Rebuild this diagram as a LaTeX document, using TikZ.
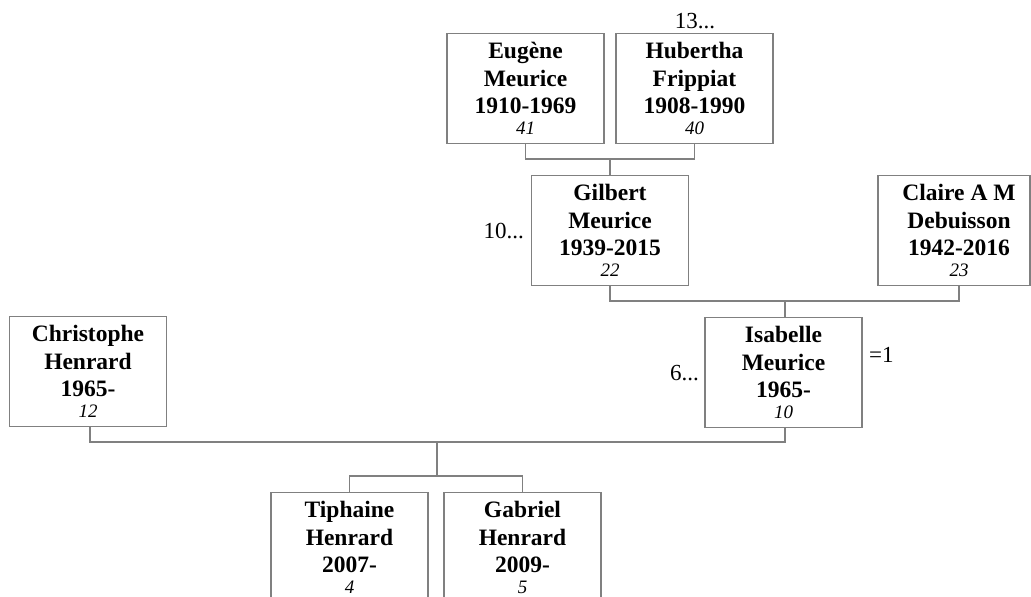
\documentclass[tikz,border=0pt]{standalone}
\usepackage{fontspec}
\setmainfont{Liberation Serif}
\definecolor{linegray}{RGB}{128,128,128}
\tikzset{
  pbox/.style={draw=linegray, line width=1.3pt, minimum width=157pt, minimum height=110pt, inner sep=0pt},
  conn/.style={draw=linegray, line width=1.3pt},
  nametext/.style={anchor=base, inner sep=0pt, font=\fontsize{23.5}{28}\selectfont\bfseries},
  numtext/.style={anchor=base, inner sep=0pt, font=\fontsize{19}{22}\selectfont\itshape},
  side/.style={inner sep=0pt, font=\fontsize{23}{27}\selectfont}
}
% \person{name}{cx}{top}{line1}{line2}{line3}{number}
\newcommand{\person}[7]{%
  \node[pbox, anchor=north] (#1) at (#2,#3) {};
  \node[nametext] (#1-a) at (#2,#3+25) {#4};
  \node[nametext] (#1-b) at (#2,#3+53) {#5};
  \node[nametext] (#1-c) at (#2,#3+80) {#6};
  \node[numtext]  (#1-d) at (#2,#3+101) {#7};
}
\begin{document}
\begin{tikzpicture}[x=1pt,y=-1pt]
\useasboundingbox (0,0) rectangle (1031,597);
\clip (0,0) rectangle (1031,597);
\person{eugene}{525.5}{33}{Eugène}{Meurice}{1910-1969}{41}
\person{hubertha}{694.5}{33}{Hubertha}{Frippiat}{1908-1990}{40}
\person{gilbert}{610}{175}{Gilbert}{Meurice}{1939-2015}{22}
% Claire (box cut at the right edge)
\node[draw=linegray, line width=1.3pt, minimum width=152pt, minimum height=110pt, inner sep=0pt, anchor=north] (claire) at (954,175) {};
\node[nametext] (claire-a) at (959,200) {Claire A M};
\node[nametext] (claire-b) at (959,228) {Debuisson};
\node[nametext] (claire-c) at (959,255) {1942-2016};
\node[numtext]  (claire-d) at (959,276) {23};
\person{isabelle}{783.5}{317}{Isabelle}{Meurice}{1965-}{10}
\person{christophe}{88}{316}{Christophe}{Henrard}{1965-}{12}
\person{tiphaine}{349.5}{492}{Tiphaine}{Henrard}{2007-}{4}
\person{gabriel}{522.5}{492}{Gabriel}{Henrard}{2009-}{5}

\node[side, anchor=base] (n13) at (695,28) {13...};
\node[side, anchor=base east] (n10) at (524,238) {10...};
\node[side, anchor=base east] (n6) at (699,380) {6...};
\node[side, anchor=base west] (n1) at (869,362) {=1};

% connectors
\coordinate (j1) at (610,159);
\draw[conn] (eugene.south) |- (j1) -| (hubertha.south);
\draw[conn] (j1) -- (gilbert.north);
\coordinate (j2) at (785,301);
\draw[conn] (gilbert.south) |- (j2) -| ([xshift=5pt]claire.south);
\draw[conn] (j2) -- ([xshift=1.5pt]isabelle.north);
\coordinate (j3) at (437,442);
\draw[conn] ([xshift=2pt]christophe.south) |- (j3) -| ([xshift=1.5pt]isabelle.south);
\coordinate (j4) at (437,476);
\draw[conn] (j3) -- (j4);
\draw[conn] (tiphaine.north) |- (j4) -| (gabriel.north);
\end{tikzpicture}
\end{document}
